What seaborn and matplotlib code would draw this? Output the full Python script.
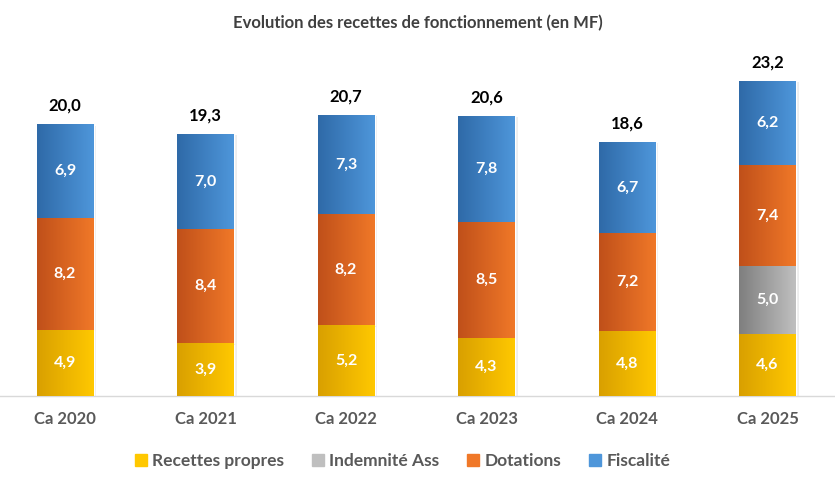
import numpy as np
import pandas as pd
import seaborn as sns
import matplotlib.pyplot as plt
import matplotlib.patheffects as pe
from matplotlib.colors import LinearSegmentedColormap

years = ['Ca 2020', 'Ca 2021', 'Ca 2022', 'Ca 2023', 'Ca 2024', 'Ca 2025']
recettes_propres = [4.9, 3.9, 5.2, 4.3, 4.8, 4.6]
indemnite_ass = [0, 0, 0, 0, 0, 5.0]
dotations = [8.2, 8.4, 8.2, 8.5, 7.2, 7.4]
fiscalite = [6.9, 7.0, 7.3, 7.8, 6.7, 6.2]
totals = [20.0, 19.3, 20.7, 20.6, 18.6, 23.2]

series = [
    ('Recettes propres', recettes_propres, ('#D9A000', '#FFC800')),
    ('Indemnité Ass', indemnite_ass, ('#7F7F7F', '#BFBFBF')),
    ('Dotations', dotations, ('#C0501A', '#F07828')),
    ('Fiscalité', fiscalite, ('#2F6AA8', '#4E96DA')),
]

sns.set_theme(style='white')
plt.rcParams['font.family'] = ['Lato', 'DejaVu Sans']

fig = plt.figure(figsize=(8.35, 4.82), dpi=100)
ax = fig.add_axes([0, 0.178, 1, 0.697])

bottom = np.zeros(len(years))
grads = []
for name, vals, (c0, c1) in series:
    vals = np.array(vals, dtype=float)
    n0 = len(ax.patches)
    sns.barplot(x=years, y=vals, bottom=bottom, color=c1, width=0.405,
                saturation=1, ax=ax, label=name)
    for i, p in enumerate(ax.patches[n0:]):
        if vals[i] > 0:
            grads.append((p, c0, c1))
            ax.text(p.get_x() + p.get_width() / 2, bottom[i] + vals[i] / 2,
                    f'{vals[i]:.1f}'.replace('.', ','), ha='center', va='center',
                    color='white', fontsize=11.5, fontweight='bold', zorder=5)
    bottom += vals

# gradient fills + soft shadow
for p, c0, c1 in grads:
    cmap = LinearSegmentedColormap.from_list('g', [c0, c1])
    x0, w = p.get_x(), p.get_width()
    y0, h = p.get_y(), p.get_height()
    im = ax.imshow(np.linspace(0, 1, 64).reshape(1, -1), cmap=cmap, aspect='auto',
                   extent=[x0, x0 + w, y0, y0 + h], zorder=3)
    im.set_clip_path(p)
    p.set_path_effects([pe.SimplePatchShadow(offset=(2, -1), shadow_rgbFace='#CCCCCC', alpha=0.35),
                        pe.Normal()])

for i, t in enumerate(totals):
    ax.text(i, bottom[i] + 0.75, f'{t:.1f}'.replace('.', ','), ha='center', va='bottom',
            color='black', fontsize=12, fontweight='bold')

ax.set_xlim(-0.463, 5.48)
ax.set_ylim(0, 24.7)
ax.set_yticks([])
ax.set_xlabel('')
ax.set_ylabel('')
for s in ['top', 'right', 'left']:
    ax.spines[s].set_visible(False)
ax.spines['bottom'].set_color('#D9D9D9')
ax.spines['bottom'].set_linewidth(1)
ax.tick_params(axis='x', length=0, pad=11, labelsize=12, labelcolor='#595959')
for lab in ax.get_xticklabels():
    lab.set_fontweight('bold')

fig.text(0.5, 0.952, 'Evolution des recettes de fonctionnement (en MF)', ha='center',
         va='center', fontsize=12, fontweight='bold', color='#404040')

handles = [plt.Rectangle((0, 0), 1, 1, color=c1) for _, _, (c0, c1) in series]
fig.legend(handles, [s[0] for s in series], loc='center', bbox_to_anchor=(0.482, 0.043),
           ncol=4, frameon=False, prop={'size': 12.5, 'weight': 'bold'},
           handlelength=0.7, handleheight=0.7,
           handletextpad=0.3, columnspacing=1.6, labelcolor='#595959')
if ax.get_legend():
    ax.get_legend().remove()

fig.savefig('out.png', dpi=100)
